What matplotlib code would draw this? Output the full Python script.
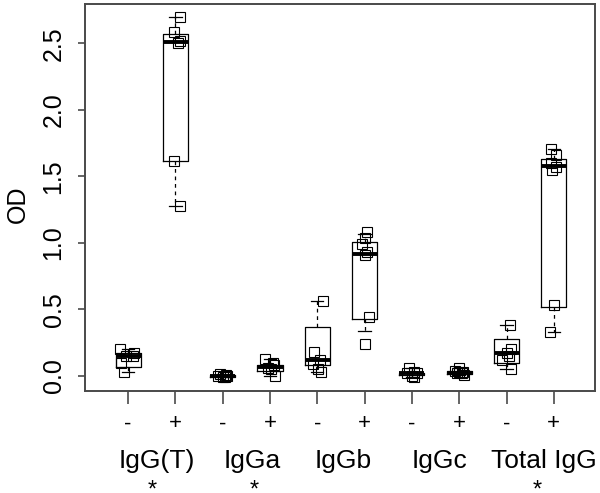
import matplotlib
matplotlib.use("Agg")
import matplotlib.pyplot as plt
import matplotlib.transforms as mtransforms

plt.rcParams['font.family'] = ['Liberation Sans', 'DejaVu Sans']

# группы и подписи
groups = ['IgG(T)', 'IgGa', 'IgGb', 'IgGc', 'Total IgG']
signs = ['-', '+']
stars = [True, True, False, False, True]

# точки для каждого ящика (OD) и их смещение по x (jitter)
points = [
    [0.20, 0.17, 0.15, 0.15, 0.10, 0.03],
    [2.70, 2.59, 2.52, 2.50, 1.62, 1.28],
    [0.015, 0.01, 0.0, 0.0, -0.005, -0.01],
    [0.13, 0.10, 0.08, 0.06, 0.05, 0.0],
    [0.56, 0.18, 0.12, 0.09, 0.05, 0.03],
    [1.08, 1.04, 0.99, 0.93, 0.91, 0.44, 0.24],
    [0.06, 0.03, 0.02, 0.02, 0.0, -0.01],
    [0.06, 0.04, 0.03, 0.03, 0.02, 0.02, 0.01],
    [0.38, 0.20, 0.17, 0.15, 0.12, 0.05],
    [1.71, 1.66, 1.60, 1.57, 1.55, 0.53, 0.33],
]
jitter = [
    [-0.17, 0.13, -0.05, 0.10, -0.15, -0.09],
    [0.09, -0.03, 0.09, 0.05, -0.03, 0.09],
    [-0.05, 0.08, 0.10, -0.10, 0.0, 0.05],
    [-0.10, 0.06, 0.08, -0.05, 0.02, 0.10],
    [0.13, -0.06, 0.05, -0.10, 0.02, 0.08],
    [0.05, 0.0, -0.05, 0.05, 0.0, 0.10, 0.0],
    [-0.06, 0.05, 0.10, -0.10, 0.0, 0.05],
    [0.0, -0.08, 0.08, 0.0, -0.05, 0.05, 0.10],
    [0.08, 0.10, 0.0, 0.05, -0.10, 0.09],
    [-0.05, 0.05, -0.05, 0.05, -0.03, 0.0, -0.08],
]

# статистика ящиков: нижний ус, Q1, медиана, Q3, верхний ус
whislo = [0.03, 1.28, -0.01, 0.00, 0.03, 0.34, -0.01, 0.01, 0.05, 0.33]
q1 = [0.07, 1.62, -0.005, 0.04, 0.08, 0.43, 0.005, 0.015, 0.10, 0.52]
med = [0.15, 2.51, 0.00, 0.065, 0.12, 0.92, 0.02, 0.025, 0.17, 1.58]
q3 = [0.17, 2.57, 0.01, 0.085, 0.37, 1.01, 0.025, 0.035, 0.28, 1.63]
whishi = [0.20, 2.70, 0.015, 0.13, 0.56, 1.07, 0.06, 0.06, 0.38, 1.71]

yticks = [0.0, 0.5, 1.0, 1.5, 2.0, 2.5]


def main():
    fig = plt.figure(figsize=(6.0, 4.93), dpi=100)
    ax = fig.add_axes([85 / 600, 1 - 391 / 493, 510 / 600, 387 / 493])

    pos = list(range(1, len(med) + 1))
    stats = []
    for i in range(len(med)):
        stats.append(dict(whislo=whislo[i], q1=q1[i], med=med[i], q3=q3[i],
                          whishi=whishi[i], fliers=[]))

    ax.bxp(stats, positions=pos, widths=0.53, capwidths=0.26,
           showfliers=False,
           boxprops=dict(color='black', linewidth=0.9),
           whiskerprops=dict(color='black', linewidth=0.9, linestyle=(0, (3, 3))),
           capprops=dict(color='black', linewidth=0.9),
           medianprops=dict(color='black', linewidth=2.8, solid_capstyle='butt'))

    for i in range(len(points)):
        xs = [pos[i] + d for d in jitter[i]]
        ax.plot(xs, points[i], linestyle='none', marker='s', ms=6.8,
                mfc='none', mec='black', mew=0.8, zorder=5)

    ax.set_xlim(0.09, 10.87)
    ax.set_ylim(-0.113, 2.797)

    gray = '#4a4a4a'
    for s in ax.spines.values():
        s.set_color(gray)
        s.set_linewidth(1.4)

    ax.set_xticks(pos)
    ax.set_xticklabels(signs * len(groups), fontsize=16)
    ax.tick_params(axis='x', length=9.5, width=1.2, color=gray, pad=6.5)
    ax.set_yticks(yticks)
    ax.set_yticklabels(['%.1f' % v for v in yticks], fontsize=18,
                       rotation=90, va='center')
    ax.tick_params(axis='y', length=5, width=1.2, color=gray, pad=9)

    ax.set_ylabel('OD', fontsize=18)
    ax.yaxis.set_label_coords(-0.108, 0.483)

    trans = mtransforms.blended_transform_factory(ax.transData, ax.transAxes)
    label_x = [1.61, 3.62, 5.54, 7.59, 9.79]
    for i, g in enumerate(groups):
        ax.text(label_x[i], -0.199, g, transform=trans, fontsize=19,
                ha='center', va='baseline')
    # звёздочки под группами
    star_x = [1.51, 3.66, 5.5, 7.5, 9.64]
    for i in range(len(groups)):
        if stars[i]:
            ax.text(star_x[i], -0.228, '*', transform=trans, fontsize=17,
                    ha='center', va='top')

    fig.savefig('out.png', dpi=100)


if __name__ == "__main__":
    main()
